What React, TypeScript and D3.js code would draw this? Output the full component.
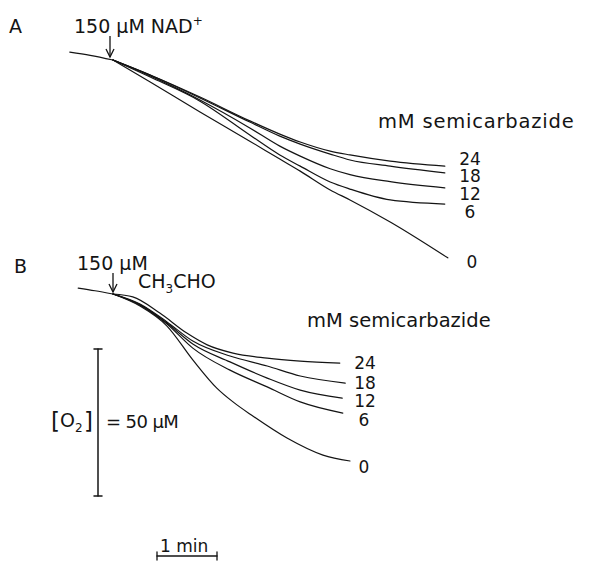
import React from "react";
import * as d3 from "d3";

// time in minutes after addition, O2 drop in µM relative to the addition point
const baselineA = [ { t: -0.72, d: -2.7 }, { t: -0.38, d: -1.6 }, { t: 0, d: 0 } ];
const baselineB = [ { t: -0.58, d: -2.0 }, { t: -0.3, d: -1.1 }, { t: 0, d: 0 } ];

const concLabels = ["24", "18", "12", "6", "0"];

const timesA = [0, 0.62, 1.45, 2.28, 2.78, 3.12, 3.62, 3.95, 4.62, 5.53];
const tracesA: Record<string, number[]> = {
  "24": [0, 5.1, 12.6, 20.7, 25.2, 27.9, 31.0, 32.3, 34.4, 36.1],
  "18": [0, 5.1, 12.9, 21.1, 25.9, 28.6, 32.0, 34.0, 36.1, 38.4],
  "12": [0, 5.4, 13.6, 23.1, 29.3, 32.7, 37.0, 39.0, 41.4, 43.5],
  "6": [0, 5.8, 14.0, 25.5, 32.3, 36.1, 41.5, 43.9, 47.6, 49.0],
  "0": [0, 7.5, 17.7, 27.6, 33.7, 37.8, 44.2, 47.6, 55.1, 67.3],
};
const endTimeA0 = 5.58;

const tracesB: Record<string, { t: number[]; d: number[] }> = {
  "24": { t: [0, 0.33, 0.78, 1.23, 1.57, 2.0, 2.57, 3.12, 3.78], d: [0, 1.0, 6.5, 13.3, 17.3, 20.1, 21.8, 22.8, 23.5] },
  "18": { t: [0, 0.45, 0.9, 1.33, 1.95, 2.57, 3.12, 3.87], d: [0, 3.4, 9.5, 16.0, 21.1, 24.5, 27.9, 30.3] },
  "12": { t: [0, 0.45, 0.9, 1.33, 1.95, 2.57, 3.12, 3.82], d: [0, 3.7, 9.9, 17.0, 23.1, 28.6, 32.7, 35.4] },
  "6": { t: [0, 0.45, 0.9, 1.33, 1.95, 2.57, 3.12, 3.83], d: [0, 3.7, 10.2, 18.4, 25.9, 31.6, 36.7, 40.5] },
  "0": { t: [0, 0.45, 0.9, 1.33, 1.73, 2.0, 2.33, 2.9, 3.5, 3.95], d: [0, 4.1, 10.9, 22.4, 32.0, 36.7, 41.5, 49.0, 54.8, 56.8] },
};

const W = 596, H = 562;
const ink = "#141414";
const font = "'DejaVu Sans', sans-serif";

type P = { t: number; d: number };

export default function App() {
  const x = d3.scaleLinear().domain([0, 1]).range([113, 173]);
  const yA = d3.scaleLinear().domain([0, 50]).range([60, 207]);
  const yB = d3.scaleLinear().domain([0, 50]).range([294, 441]);

  const lineA = d3.line<P>().x(p => x(p.t)).y(p => yA(p.d)).curve(d3.curveMonotoneX);
  const lineB = d3.line<P>().x(p => x(p.t)).y(p => yB(p.d)).curve(d3.curveMonotoneX);

  const seriesA = concLabels.map(k =>
    tracesA[k].map((d, i) => ({ t: k === "0" && i === timesA.length - 1 ? endTimeA0 : timesA[i], d }))
  );
  const seriesB = concLabels.map(k => tracesB[k].t.map((t, i) => ({ t, d: tracesB[k].d[i] })));

  const labA = [
    { x: 470, y: 165 }, { x: 470, y: 182 }, { x: 470, y: 200 }, { x: 470, y: 218 }, { x: 472, y: 268 },
  ];
  const labB = [
    { x: 365, y: 369 }, { x: 365, y: 389 }, { x: 365, y: 407 }, { x: 364, y: 426 }, { x: 364, y: 473 },
  ];

  const barLen = yB(50) - yB(0);
  const minLen = x(1) - x(0);
  const arrow = (ax: number, y1: number, y2: number) => (
    <g stroke={ink} strokeWidth={1.3} fill="none">
      <line x1={ax} y1={y1} x2={ax} y2={y2} />
      <polyline points={`${ax - 4},${y2 - 8} ${ax},${y2} ${ax + 4},${y2 - 8}`} />
    </g>
  );

  return (
    <svg width={W} height={H} style={{ position: "absolute", left: 0, top: 0, background: "#fff" }}>
      <rect width={W} height={H} fill="#fff" />
      <g fontFamily={font} fill={ink} fontSize={19}>
        {/* Panel A */}
        <text x={9} y={33}>A</text>
        <text x={74} y={33}>150 µM NAD<tspan dy={-8} fontSize={12}>+</tspan></text>
        {arrow(110, 36, 57)}
        <text x={378} y={128} fontSize={19.5} letterSpacing={0.8}>mM semicarbazide</text>
        {labA.map((p, i) => (
          <text key={i} x={p.x} y={p.y} textAnchor="middle" fontSize={17}>{concLabels[i]}</text>
        ))}
        {/* Panel B */}
        <text x={14} y={273}>B</text>
        <text x={77} y={270}>150 µM</text>
        <text x={138} y={288}>CH<tspan dy={5} fontSize={12}>3</tspan><tspan dy={-5}>CHO</tspan></text>
        {arrow(113, 273, 292)}
        <text x={307} y={327} fontSize={19.5}>mM semicarbazide</text>
        {labB.map((p, i) => (
          <text key={i} x={p.x} y={p.y} textAnchor="middle" fontSize={17}>{concLabels[i]}</text>
        ))}
        {/* O2 scale */}
        <text x={51} y={429} fontSize={23}>[</text>
        <text x={60} y={427} fontSize={19}>O<tspan dy={5} fontSize={12}>2</tspan></text>
        <text x={84} y={429} fontSize={23}>]</text>
        <text x={106} y={428} fontSize={18} letterSpacing={-0.6}>= 50 µM</text>
        <text x={160} y={552} fontSize={17}>1 min</text>
      </g>
      <g stroke={ink} fill="none" strokeWidth={1.2} strokeLinecap="round">
        <path d={lineA(baselineA) || ""} />
        {seriesA.map((s, i) => <path key={i} d={lineA(s) || ""} />)}
        <path d={lineB(baselineB) || ""} />
        {seriesB.map((s, i) => <path key={i} d={lineB(s) || ""} />)}
        {/* vertical 50 µM bar */}
        <line x1={98} y1={349} x2={98} y2={349 + barLen} strokeWidth={1.5} />
        <line x1={94} y1={349} x2={102} y2={349} strokeWidth={1.5} />
        <line x1={94} y1={349 + barLen} x2={102} y2={349 + barLen} strokeWidth={1.5} />
        {/* 1 min bar */}
        <line x1={157} y1={556} x2={157 + minLen} y2={556} strokeWidth={1.5} />
        <line x1={157} y1={552} x2={157} y2={560} strokeWidth={1.3} />
        <line x1={157 + minLen} y1={552} x2={157 + minLen} y2={560} strokeWidth={1.3} />
      </g>
    </svg>
  );
}
